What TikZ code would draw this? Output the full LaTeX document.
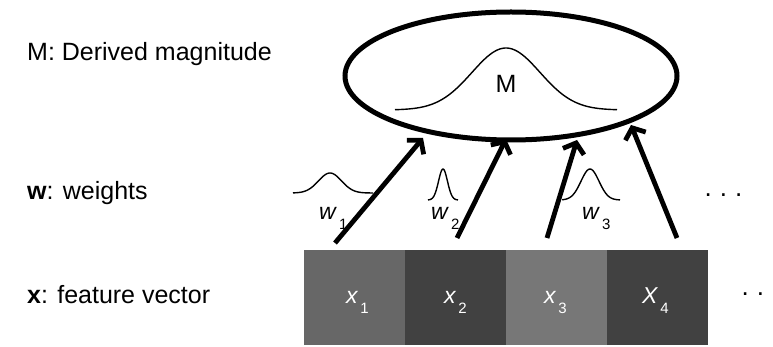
\documentclass[tikz,border=0pt]{standalone}
\usepackage{fontspec}
\setmainfont{Liberation Sans}
\usetikzlibrary{arrows.meta,shapes.geometric}

\definecolor{cellA}{HTML}{676767}
\definecolor{cellB}{HTML}{414141}
\definecolor{cellC}{HTML}{777777}

% subscripted italic symbol, as used for x_i and w_i
\newcommand{\subsym}[2]{\textit{#1}\kern2pt\raisebox{-10pt}{\fontsize{15}{15}\selectfont #2}}

\tikzset{
  lbl/.style={anchor=base west, inner sep=0pt, font=\fontsize{25}{29}\selectfont},
  cell/.style={rectangle, minimum width=101pt, minimum height=95pt, inner sep=0pt},
  sym/.style={anchor=base west, inner sep=0pt, font=\fontsize{23}{27}\selectfont},
  weightarrow/.style={line width=4.8pt, -{Straight Barb[length=9pt,width=22pt]}},
  bell/.style={line width=1.4pt},
  dots/.style={anchor=base west, inner sep=0pt, font=\fontsize{26}{30}\selectfont}
}

\begin{document}
\begin{tikzpicture}[x=1pt,y=-1pt]
\useasboundingbox (0,0) rectangle (773,347);

% row captions
\node[lbl] (capM) at (27,61) {M: Derived magnitude};
\node[lbl] (capW) at (27,200) {\textbf{w}: weights};
\node[lbl] (capX) at (27,303) {\textbf{x}: feature vector};

% derived magnitude
\node[ellipse, draw, line width=5pt, minimum width=332pt, minimum height=128pt, inner sep=0pt] (mag) at (511,76) {};
\draw[bell] plot[domain=395:617, samples=90] (\x, {110 - 62*exp(-((\x-506)*(\x-506))/2312)});
\node[inner sep=0pt, font=\fontsize{25}{28}\selectfont] (magM) at (506,84) {M};

% feature vector cells
\node[cell, fill=cellA] (x1) at (354.5,297.5) {};
\node[cell, fill=cellB] (x2) at (455.5,297.5) {};
\node[cell, fill=cellC] (x3) at (556.5,297.5) {};
\node[cell, fill=cellB] (x4) at (657,297.5) {};
\node[sym, text=white] (lx1) at (346,303) {\subsym{x}{1}};
\node[sym, text=white] (lx2) at (444,303) {\subsym{x}{2}};
\node[sym, text=white] (lx3) at (544,303) {\subsym{x}{3}};
\node[sym, text=white] (lx4) at (642,303) {\subsym{X}{4}};

% weight arrows
\coordinate (s1) at (335,243); \coordinate (t1) at (423,138);
\coordinate (s2) at (457,238); \coordinate (t2) at (506,139);
\coordinate (s3) at (547,238); \coordinate (t3) at (577,140);
\coordinate (s4) at (677,238); \coordinate (t4) at (631,125);
\draw[weightarrow] (s1) -- (t1);
\draw[weightarrow] (s2) -- (t2);
\draw[weightarrow] (s3) -- (t3);
\draw[weightarrow] (s4) -- (t4);

% weight distributions
\draw[bell] plot[domain=293:373, samples=60] (\x, {193 - 20*exp(-((\x-330)*(\x-330))/264)});
\draw[bell] plot[domain=428:458, samples=50] (\x, {200 - 31*exp(-((\x-443)*(\x-443))/40)});
\draw[bell] plot[domain=562:620, samples=50] (\x, {200 - 31*exp(-((\x-590)*(\x-590))/162)});
\node[sym] (lw1) at (319,220) {\subsym{w}{1}};
\node[sym] (lw2) at (431,220) {\subsym{w}{2}};
\node[sym] (lw3) at (582,220) {\subsym{w}{3}};

% continuation marks
\node[dots] (moreW) at (704.5,196.5) {.\kern8pt.\kern8pt.};
\node[dots] (moreX) at (741.5,295.5) {.\kern8pt.\kern8pt.};
\end{tikzpicture}
\end{document}
